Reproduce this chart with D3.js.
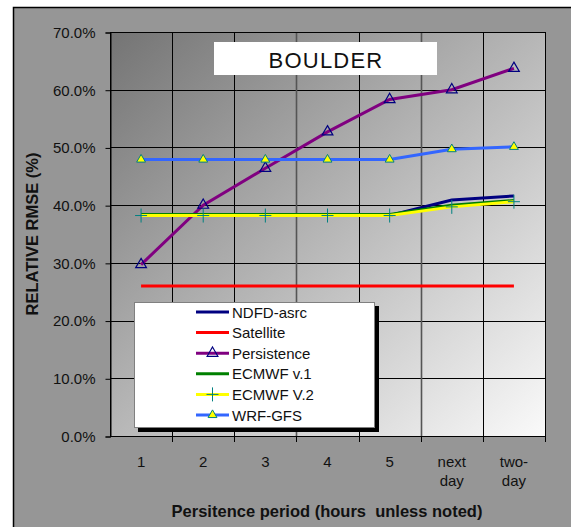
<!DOCTYPE html>
<html>
<head>
<meta charset="utf-8">
<script src="https://cdn.jsdelivr.net/npm/d3@7"></script>
<style>
  body { margin: 0; background: #fff; }
  text { font-family: "Liberation Sans", Arial, sans-serif; }
</style>
</head>
<body>
<svg id="chart" width="571" height="527"></svg>
<script>
// persistence periods on the x axis
const periods = ["1", "2", "3", "4", "5", "next day", "two-day"];
const yTicks = [0, 0.1, 0.2, 0.3, 0.4, 0.5, 0.6, 0.7];

// relative RMSE per period
const ndfd = [0.382, 0.382, 0.382, 0.382, 0.382, 0.409, 0.416];
const satellite = [0.26, 0.26, 0.26, 0.26, 0.26, 0.26, 0.26];
const persistence = [0.297, 0.400, 0.464, 0.527, 0.583, 0.600, 0.637];
const ecmwf1 = [0.384, 0.384, 0.384, 0.384, 0.384, 0.400, 0.408];
const ecmwf2 = [0.382, 0.382, 0.382, 0.382, 0.382, 0.397, 0.406];
const wrfGfs = [0.479, 0.479, 0.479, 0.479, 0.479, 0.497, 0.501];

const series = [
  {name: "NDFD-asrc", values: ndfd, color: "#000080", marker: null},
  {name: "Satellite", values: satellite, color: "#ff0000", marker: null},
  {name: "Persistence", values: persistence, color: "#800080", marker: "hollowTri"},
  {name: "ECMWF v.1", values: ecmwf1, color: "#008000", marker: null},
  {name: "ECMWF V.2", values: ecmwf2, color: "#ffff00", marker: "plus"},
  {name: "WRF-GFS", values: wrfGfs, color: "#3366ff", marker: "yellowTri"}
];

const svg = d3.select("#chart");
const plot = {left: 110, top: 32, right: 545, bottom: 436};

// outer chart area
svg.append("rect")
  .attr("x", 13.5).attr("y", 7.5)
  .attr("width", 600).attr("height", 560)
  .attr("fill", "#969696")
  .attr("stroke", "#000").attr("stroke-width", 1.5);

const defs = svg.append("defs");
const grad = defs.append("linearGradient")
  .attr("id", "plotGrad")
  .attr("x1", "0%").attr("y1", "0%").attr("x2", "100%").attr("y2", "100%");
grad.append("stop").attr("offset", "0%").attr("stop-color", "#747474");
grad.append("stop").attr("offset", "100%").attr("stop-color", "#fafafa");

const x = d3.scaleBand().domain(periods).range([plot.left, plot.right]).padding(0);
const y = d3.scaleLinear().domain([0, 0.7]).range([plot.bottom, plot.top]);
const cx = d => x(d) + x.bandwidth() / 2;

svg.append("rect")
  .attr("x", plot.left).attr("y", plot.top)
  .attr("width", plot.right - plot.left).attr("height", plot.bottom - plot.top)
  .attr("fill", "url(#plotGrad)");

// grid
svg.append("g")
  .selectAll("line")
  .data(yTicks)
  .join("line")
  .attr("x1", plot.left).attr("x2", plot.right)
  .attr("y1", d => Math.round(y(d)) + 0.5).attr("y2", d => Math.round(y(d)) + 0.5)
  .attr("stroke", "#000");

svg.append("g")
  .selectAll("line")
  .data(periods.slice(1))
  .join("line")
  .attr("x1", d => Math.round(x(d)) + 0.5).attr("x2", d => Math.round(x(d)) + 0.5)
  .attr("y1", plot.top).attr("y2", plot.bottom)
  .attr("stroke", (d, i) => (i === 2 || i === 4) ? "#555" : "#000")
  .attr("stroke-width", (d, i) => (i === 2 || i === 4) ? 1.6 : 1);

svg.append("rect")
  .attr("x", plot.left + 0.5).attr("y", plot.top + 0.5)
  .attr("width", plot.right - plot.left).attr("height", plot.bottom - plot.top)
  .attr("fill", "none").attr("stroke", "#000");

// y axis
const yAxis = svg.append("g")
  .attr("transform", "translate(" + (plot.left + 0.5) + ",0.5)")
  .call(d3.axisLeft(y).tickValues(yTicks).tickFormat(d3.format(".1%")).tickSize(5).tickPadding(10));
yAxis.select(".domain").attr("stroke", "#000");
yAxis.selectAll("text").attr("font-size", 15).attr("fill", "#111")
  .style("font-family", "'Liberation Sans', Arial, sans-serif");

// x axis ticks at category boundaries
svg.append("g")
  .selectAll("line")
  .data(periods.slice(1).concat(["end"]))
  .join("line")
  .attr("x1", d => d === "end" ? plot.right + 0.5 : Math.round(x(d)) + 0.5)
  .attr("x2", d => d === "end" ? plot.right + 0.5 : Math.round(x(d)) + 0.5)
  .attr("y1", plot.bottom).attr("y2", plot.bottom + 6)
  .attr("stroke", "#000");

const xLabels = svg.append("g")
  .selectAll("text")
  .data(periods)
  .join("text")
  .attr("x", d => cx(d))
  .attr("y", 467)
  .attr("text-anchor", "middle")
  .attr("font-size", 15)
  .attr("fill", "#111");
xLabels.each(function (d) {
  const parts = d === "two-day" ? ["two-", "day"] : d.split(" ");
  d3.select(this).selectAll("tspan")
    .data(parts)
    .join("tspan")
    .attr("x", cx(d))
    .attr("dy", (p, i) => i === 0 ? 0 : 19)
    .text(p => p);
});

// axis titles
svg.append("text")
  .attr("x", 327).attr("y", 517)
  .attr("text-anchor", "middle")
  .attr("font-size", 16.5).attr("font-weight", "bold")
  .attr("fill", "#111")
  .style("white-space", "pre")
  .text("Persitence period (hours  unless noted)");

svg.append("text")
  .attr("transform", "translate(38," + ((plot.top + plot.bottom) / 2) + ")rotate(-90)")
  .attr("text-anchor", "middle")
  .attr("font-size", 16.5).attr("font-weight", "bold")
  .attr("fill", "#111")
  .text("RELATIVE RMSE (%)");

// title box
svg.append("rect")
  .attr("x", 214).attr("y", 42).attr("width", 223).attr("height", 33)
  .attr("fill", "#fff");
svg.append("text")
  .attr("x", 326).attr("y", 68)
  .attr("text-anchor", "middle")
  .attr("font-size", 22).attr("letter-spacing", 1.2)
  .attr("fill", "#111")
  .text("BOULDER");

// marker drawing
function drawMarker(g, kind, px, py) {
  if (kind === "hollowTri") {
    g.append("path")
      .attr("transform", "translate(" + px + "," + py + ")")
      .attr("d", d3.symbol(d3.symbolTriangle, 50)())
      .attr("fill", "none").attr("stroke", "#000080").attr("stroke-width", 1.2);
  } else if (kind === "yellowTri") {
    g.append("path")
      .attr("transform", "translate(" + px + "," + py + ")")
      .attr("d", d3.symbol(d3.symbolTriangle, 34)())
      .attr("fill", "#ffff00").attr("stroke", "#008080").attr("stroke-width", 1);
  } else if (kind === "plus") {
    g.append("path")
      .attr("d", "M" + (px - 6) + "," + py + "H" + (px + 6) + "M" + px + "," + (py - 7) + "V" + (py + 7))
      .attr("fill", "none").attr("stroke", "#008080").attr("stroke-width", 1);
  }
}

// series
const line = d3.line().x((v, i) => cx(periods[i])).y(v => y(v));
const lines = svg.append("g");
series.forEach(s => {
  lines.append("path")
    .attr("d", line(s.values))
    .attr("fill", "none")
    .attr("stroke", s.color)
    .attr("stroke-width", 3);
});
series.forEach(s => {
  if (!s.marker) return;
  s.values.forEach((v, i) => drawMarker(lines, s.marker, cx(periods[i]), y(v)));
});

// legend
const lg = svg.append("g");
lg.append("rect")
  .attr("x", 138).attr("y", 306).attr("width", 241).attr("height", 126)
  .attr("fill", "#000");
lg.append("rect")
  .attr("x", 134.5).attr("y", 302.5).attr("width", 240).attr("height", 125)
  .attr("fill", "#fff").attr("stroke", "#808080");
series.forEach((s, i) => {
  const ry = 312 + i * 20.6;
  lg.append("line")
    .attr("x1", 196).attr("x2", 229)
    .attr("y1", ry).attr("y2", ry)
    .attr("stroke", s.color).attr("stroke-width", 3);
  if (s.marker) drawMarker(lg, s.marker, 212.5, ry);
  lg.append("text")
    .attr("x", 232).attr("y", ry + 5.5)
    .attr("font-size", 15).attr("fill", "#111")
    .text(s.name);
});
</script>
</body>
</html>
